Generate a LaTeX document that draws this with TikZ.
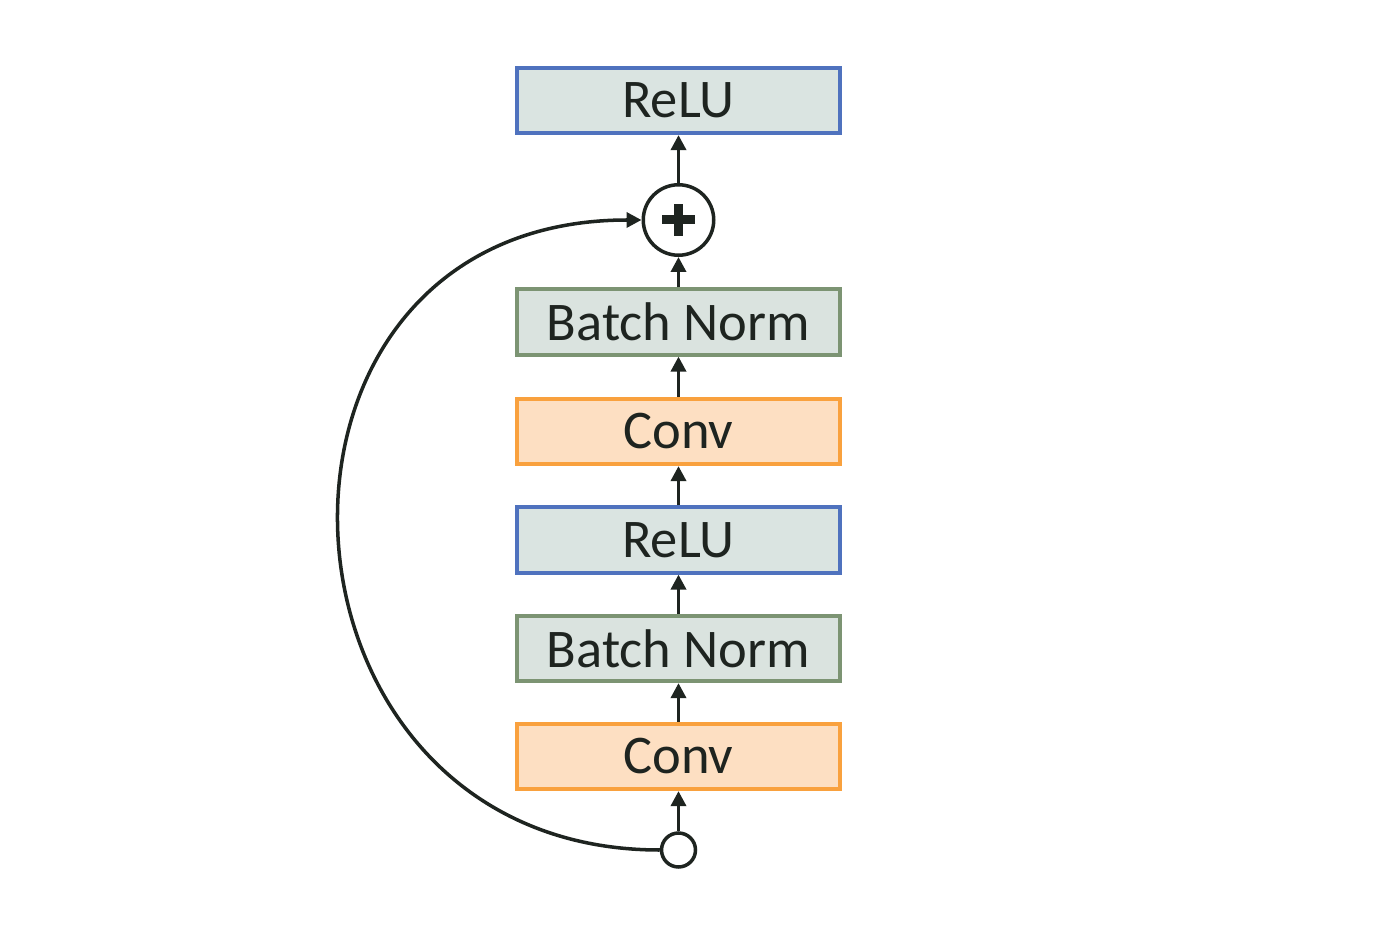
\documentclass[tikz,border=0pt]{standalone}
\usepackage{fontspec}
\setmainfont{Carlito}
\usetikzlibrary{arrows.meta}
\definecolor{txt}{HTML}{1E2420}
\definecolor{bluebd}{HTML}{4F72BE}
\definecolor{bluefill}{HTML}{DAE4E1}
\definecolor{greenbd}{HTML}{7C9473}
\definecolor{greenfill}{HTML}{DAE3DF}
\definecolor{orangebd}{HTML}{F9A13E}
\definecolor{orangefill}{HTML}{FDDFC2}
\tikzset{
  layer/.style={draw, line width=2.1pt, minimum width=6.46cm, minimum height=1.31cm, inner sep=0pt,
    text=txt, font=\fontsize{31}{36}\selectfont},
  relubox/.style={layer, draw=bluebd, fill=bluefill},
  bnbox/.style={layer, draw=greenbd, fill=greenfill},
  convbox/.style={layer, draw=orangebd, fill=orangefill},
  conn/.style={draw=txt, line width=2pt, -{Triangle[length=0.3cm, width=0.3cm]}},
}
\begin{document}
\begin{tikzpicture}[x=0.02cm, y=-0.02cm]
\useasboundingbox (0,0) rectangle (1400,942);
\node[relubox] (relu2) at (678.5,100.5) {ReLU};
\node[draw=txt, line width=2pt, circle, fill=white, minimum size=1.41cm, inner sep=0pt,
  path picture={
    \fill[txt] ([xshift=-0.33cm, yshift=-0.09cm]path picture bounding box.center) rectangle ([xshift=0.33cm, yshift=0.09cm]path picture bounding box.center);
    \fill[txt] ([xshift=-0.09cm, yshift=-0.33cm]path picture bounding box.center) rectangle ([xshift=0.09cm, yshift=0.33cm]path picture bounding box.center);
  }] (plus) at (678.5,220) {};
\node[bnbox] (bn2) at (678.5,322) {Batch Norm};
\node[convbox] (conv2) at (678.5,431.5) {Conv};
\node[relubox] (relu1) at (678.5,540) {ReLU};
\node[bnbox] (bn1) at (678.5,648.5) {Batch Norm};
\node[convbox] (conv1) at (678.5,756.5) {Conv};
\node[draw=txt, line width=2pt, circle, fill=white, minimum size=0.68cm, inner sep=0pt] (in) at (678.5,850) {};

\draw[conn] (in) -- (conv1);
\draw[conn] (conv1) -- (bn1);
\draw[conn] (bn1) -- (relu1);
\draw[conn] (relu1) -- (conv2);
\draw[conn] (conv2) -- (bn2);
\draw[conn] (bn2) -- (plus);
\draw[conn] (plus) -- (relu2);
\draw[conn] (in.west) .. controls (250,850) and (222,220) .. (plus.west);
\end{tikzpicture}
\end{document}
